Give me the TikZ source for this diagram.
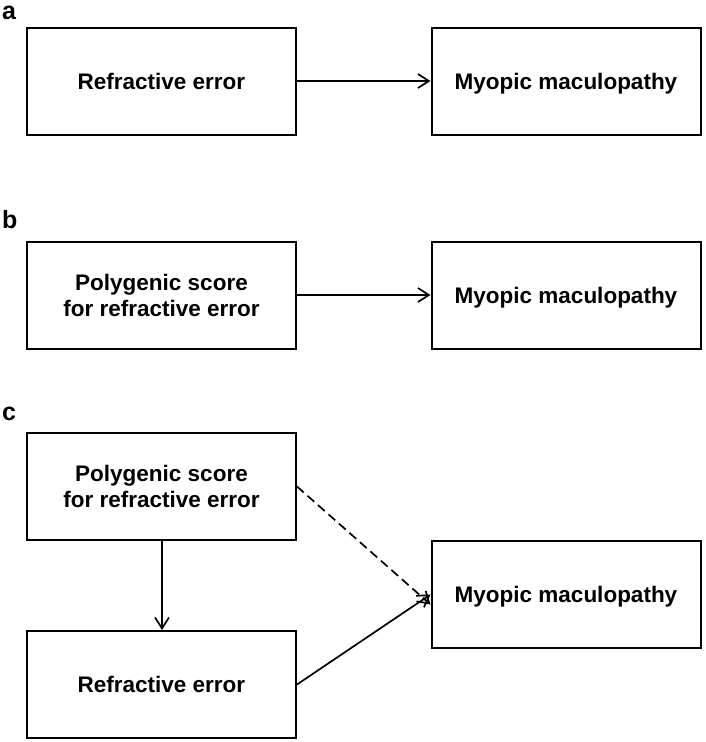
\documentclass[tikz,border=0pt]{standalone}
\usepackage{fontspec}
\setmainfont{Liberation Sans}
\usetikzlibrary{arrows.meta}
\begin{document}
\begin{tikzpicture}[x=1pt,y=-1pt,
  box/.style={draw,line width=2pt,minimum width=269pt,minimum height=107pt,inner sep=0pt,
    font=\fontsize{22.5}{26}\selectfont\bfseries,align=center},
  onebox/.style={box,text height=16pt,text depth=0pt},
  conn/.style={line width=1.7pt,-{Straight Barb[length=11pt,width=14pt,line width=1.7pt]}},
  lab/.style={font=\fontsize{25}{28}\selectfont\bfseries,anchor=base west,inner sep=0pt}]
\useasboundingbox (0,0) rectangle (705,742);
% panel a
\node[lab] (la) at (2,19) {a};
\node[onebox] (a1) at (161.5,81) {Refractive error};
\node[onebox] (a2) at (566,81) {Myopic maculopathy};
\draw[conn] (a1.east) -- (a2.west);
% panel b
\node[lab] (lb) at (2,228) {b};
\node[box] (b1) at (161.5,295) {Polygenic score\\for refractive error};
\node[onebox] (b2) at (566,295) {Myopic maculopathy};
\draw[conn] (b1.east) -- (b2.west);
% panel c
\node[lab] (lc) at (2,420) {c};
\node[box] (c1) at (161.5,486.5) {Polygenic score\\for refractive error};
\node[onebox] (c2) at (161.5,684.5) {Refractive error};
\node[onebox] (c3) at (566,594.5) {Myopic maculopathy};
\coordinate (ct) at ([yshift=-10pt]c3.west);
\draw[conn] ([xshift=0.5pt]c1.south) -- ([xshift=0.5pt]c2.north);
\draw[conn,dash pattern=on 9pt off 5pt] (c1.east) -- (ct);
\draw[conn] (c2.east) -- (c3.west);
\end{tikzpicture}
\end{document}
